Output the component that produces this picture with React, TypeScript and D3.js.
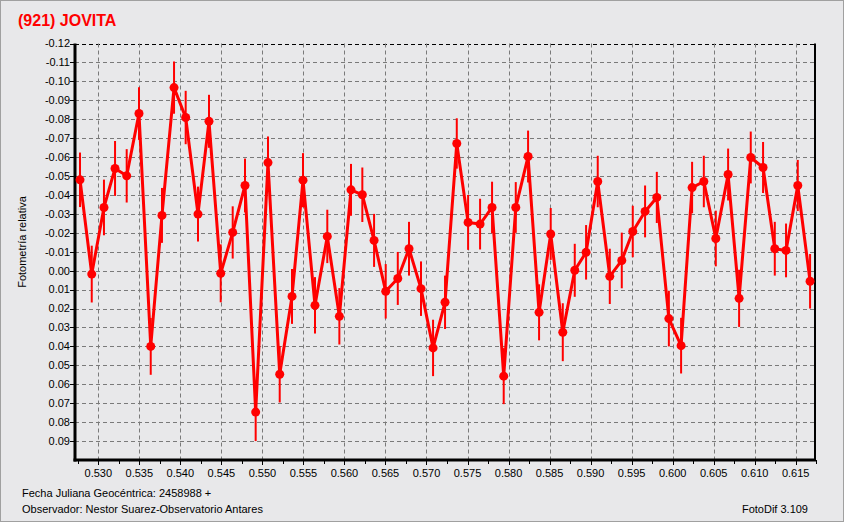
import React from "react";
import * as d3 from "d3";

const TITLE = "(921) JOVITA";
const Y_LABEL = "Fotometría relativa";
const FOOT_1 = "Fecha Juliana Geocéntrica: 2458988 +";
const FOOT_2 = "Observador: Nestor Suarez-Observatorio Antares";
const FOOT_3 = "FotoDif 3.109";

const jd = [
  0.52777, 0.5292, 0.53069, 0.53204, 0.53346, 0.53496, 0.53639, 0.53776, 0.53923, 0.54065,
  0.54215, 0.54349, 0.54492, 0.54638, 0.54788, 0.54918, 0.55068, 0.55211, 0.55361, 0.55495,
  0.55641, 0.55791, 0.55938, 0.5608, 0.56218, 0.56361, 0.56503, 0.5665, 0.56787, 0.56933,
  0.5708, 0.57226, 0.57369, 0.57507, 0.57653, 0.57799, 0.57941, 0.58088, 0.58238, 0.58372,
  0.58514, 0.58661, 0.58807, 0.58945, 0.59087, 0.59234, 0.5938, 0.59514, 0.59664, 0.59807,
  0.59954, 0.60103, 0.60237, 0.6038, 0.60526, 0.60676, 0.6081, 0.60952, 0.61102, 0.61245,
  0.61382, 0.61525, 0.61675,
];
const mag = [
  -0.048, 0.0018, -0.0334, -0.054, -0.0501, -0.083, 0.04, -0.0292, -0.0967, -0.0809,
  -0.0299, -0.0789, 0.0014, -0.0202, -0.045, 0.0747, -0.0571, 0.0547, 0.0136, -0.0478,
  0.0183, -0.0181, 0.0241, -0.0427, -0.0401, -0.016, 0.0109, 0.0041, -0.0116, 0.0095,
  0.0408, 0.0167, -0.0672, -0.0255, -0.0246, -0.0334, 0.0557, -0.0334, -0.0603, 0.022,
  -0.0194, 0.0325, -0.0002, -0.0097, -0.0471, 0.003, -0.0054, -0.0207, -0.0313, -0.0387,
  0.0253, 0.0396, -0.0439, -0.0471, -0.017, -0.0508, 0.0146, -0.0598, -0.0545, -0.0116,
  -0.0107, -0.045, 0.0056,
];
const err = [
  0.0144, 0.015, 0.0147, 0.0145, 0.0141, 0.0139, 0.015, 0.0145, 0.0138, 0.0141,
  0.0145, 0.014, 0.0153, 0.0138, 0.0142, 0.0153, 0.0138, 0.0149, 0.0145, 0.0143,
  0.0149, 0.0141, 0.0149, 0.0137, 0.0144, 0.014, 0.0144, 0.014, 0.0142, 0.0144,
  0.0149, 0.0141, 0.0133, 0.0145, 0.0134, 0.0136, 0.0148, 0.0134, 0.0137, 0.0148,
  0.0137, 0.0153, 0.014, 0.0144, 0.0136, 0.0146, 0.0147, 0.0136, 0.0137, 0.0135,
  0.0147, 0.0147, 0.0136, 0.0136, 0.0147, 0.0137, 0.0151, 0.0137, 0.0135, 0.0142,
  0.0142, 0.0135, 0.0144,
];

const xTicks = [0.53, 0.535, 0.54, 0.545, 0.55, 0.555, 0.56, 0.565, 0.57, 0.575, 0.58, 0.585, 0.59, 0.595, 0.6, 0.605, 0.61, 0.615];
const xTickLabels = ["0.530", "0.535", "0.540", "0.545", "0.550", "0.555", "0.560", "0.565", "0.570", "0.575", "0.580", "0.585", "0.590", "0.595", "0.600", "0.605", "0.610", "0.615"];
const xMinor = [0.5275, 0.5325, 0.5375, 0.5425, 0.5475, 0.5525, 0.5575, 0.5625, 0.5675, 0.5725, 0.5775, 0.5825, 0.5875, 0.5925, 0.5975, 0.6025, 0.6075, 0.6125, 0.6175];
const yTicks = [-0.12, -0.11, -0.1, -0.09, -0.08, -0.07, -0.06, -0.05, -0.04, -0.03, -0.02, -0.01, 0, 0.01, 0.02, 0.03, 0.04, 0.05, 0.06, 0.07, 0.08, 0.09];
const yTickLabels = ["-0.12", "-0.11", "-0.10", "-0.09", "-0.08", "-0.07", "-0.06", "-0.05", "-0.04", "-0.03", "-0.02", "-0.01", "0.00", "0.01", "0.02", "0.03", "0.04", "0.05", "0.06", "0.07", "0.08", "0.09"];

const W = 844;
const H = 522;
const L = 75, R = 815, T = 43.5, B = 460;
const RED = "#ff0000";
const BG = "#e8e8ea";
const FONT = "'Liberation Sans', Arial, sans-serif";

export default function App() {
  const x = d3.scaleLinear().domain([0.52716, 0.61735]).range([L, R]);
  const y = d3.scaleLinear().domain([-0.12, 0.1]).range([T, B]);
  const pts = jd.map((d, i) => ({ x: d, y: mag[i], e: err[i] }));
  const line = d3.line<{ x: number; y: number }>().x((d) => x(d.x)).y((d) => y(d.y));

  return (
    <svg width={W} height={H} style={{ position: "absolute", left: 0, top: 0 }} fontFamily={FONT}>
      <rect x={0} y={0} width={W} height={H} fill={BG} />
      <rect x={0.5} y={0.5} width={W - 1} height={H - 1} fill="none" stroke="#a0a0a0" />
      <text x={18} y={26} fill={RED} fontSize={16} fontWeight="bold" fontFamily={FONT}>{TITLE}</text>

      {/* grid */}
      {yTicks.map((t, i) => (
        <line key={"gy" + i} x1={L} x2={R} y1={Math.round(y(t)) + 0.5} y2={Math.round(y(t)) + 0.5}
          stroke={i === 0 ? "#000" : "#7a7a7a"} strokeDasharray="4,3" strokeWidth={1} />
      ))}
      {xTicks.map((t, i) => (
        <line key={"gx" + i} x1={Math.round(x(t)) + 0.5} x2={Math.round(x(t)) + 0.5} y1={T} y2={B}
          stroke="#7a7a7a" strokeDasharray="4,3" strokeWidth={1} />
      ))}

      {/* axes */}
      <line x1={L} x2={L} y1={T} y2={B + 1.5} stroke="#000" strokeWidth={3} />
      <line x1={L - 1.5} x2={R + 1} y1={B} y2={B} stroke="#000" strokeWidth={3} />
      <line x1={R} x2={R} y1={T} y2={B} stroke="#000" strokeWidth={2} />

      {yTicks.map((t, i) => (
        <g key={"ty" + i}>
          <line x1={L - 5} x2={L} y1={Math.round(y(t)) + 0.5} y2={Math.round(y(t)) + 0.5} stroke="#000" />
          <text x={70} y={y(t)} dy="0.35em" textAnchor="end" fontSize={11} fill="#000">{yTickLabels[i]}</text>
        </g>
      ))}
      {xTicks.map((t, i) => (
        <g key={"tx" + i}>
          <line x1={Math.round(x(t)) + 0.5} x2={Math.round(x(t)) + 0.5} y1={B} y2={B + 5} stroke="#000" />
          <text x={x(t)} y={477} textAnchor="middle" fontSize={11} fill="#000">{xTickLabels[i]}</text>
        </g>
      ))}
      {xMinor.map((t, i) => (
        <line key={"tm" + i} x1={Math.round(x(t)) + 0.5} x2={Math.round(x(t)) + 0.5} y1={B} y2={B + 4} stroke="#000" />
      ))}

      {/* data */}
      {pts.map((p, i) => (
        <line key={"e" + i} x1={x(p.x)} x2={x(p.x)} y1={y(p.y - p.e)} y2={y(p.y + p.e)} stroke={RED} strokeWidth={2} />
      ))}
      <path d={line(pts) || ""} fill="none" stroke={RED} strokeWidth={3} strokeLinejoin="round" />
      {pts.map((p, i) => (
        <circle key={"c" + i} cx={x(p.x)} cy={y(p.y)} r={4.5} fill={RED} />
      ))}

      <text transform={`translate(26,242) rotate(-90)`} textAnchor="middle" fontSize={11} fill="#000">{Y_LABEL}</text>
      <text x={22} y={497} fontSize={11} fill="#000">{FOOT_1}</text>
      <text x={22} y={513} fontSize={11} fill="#000">{FOOT_2}</text>
      <text x={808} y={513} textAnchor="end" fontSize={11} fill="#000">{FOOT_3}</text>
    </svg>
  );
}
